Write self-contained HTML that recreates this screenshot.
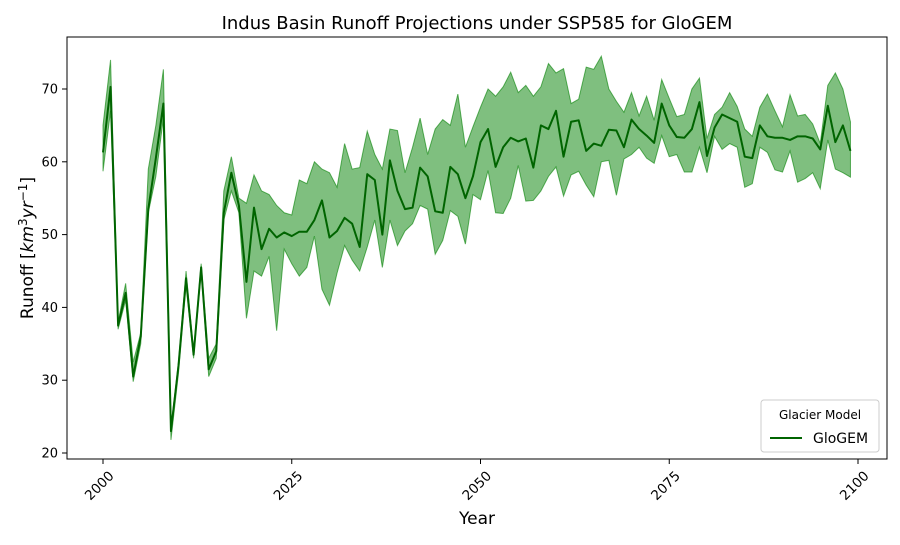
<!DOCTYPE html>
<html><head><meta charset="utf-8"><style>
body{margin:0;background:#fff;font-family:"Liberation Sans","DejaVu Sans",sans-serif}
svg text{font-family:"DejaVu Sans","Liberation Sans",sans-serif}
</style></head><body>
<svg id="chart" width="900" height="540" viewBox="0 0 900 540">
<rect width="900" height="540" fill="#fff"/>
<text x="477" y="29" text-anchor="middle" font-size="18">Indus Basin Runoff Projections under SSP585 for GloGEM</text>
<g id="plot"></g>
<rect x="67" y="37" width="820" height="422" fill="none" stroke="#000" stroke-width="1"/>
<g id="xticks"></g><g id="yticks"></g>
<text x="477" y="524" text-anchor="middle" font-size="17">Year</text>
<text transform="translate(33,248) rotate(-90)" text-anchor="middle" font-size="17">Runoff [<tspan font-style="italic">km</tspan><tspan font-size="12" dy="-6">3</tspan><tspan dy="6" font-style="italic">yr</tspan><tspan font-size="12" dy="-6">−1</tspan><tspan dy="6">]</tspan></text>
<g>
<rect x="761" y="400" width="118" height="52" rx="3" fill="#fff" fill-opacity="0.8" stroke="#ccc"/>
<text x="820" y="419" text-anchor="middle" font-size="12">Glacier Model</text>
<line x1="770" y1="438" x2="802" y2="438" stroke="#006400" stroke-width="2"/>
<text x="813" y="443" font-size="14">GloGEM</text>
</g>
</svg>
<script>
const years=[];for(let y=2000;y<=2099;y++)years.push(y);
const meanRunoff=[61.3,70.3,37.5,42,30.5,36,53.5,60.5,68,23,32,44,33.5,45.5,31.5,34,53,58.5,54,43.5,53.7,48,50.8,49.6,50.3,49.8,50.4,50.4,52,54.7,49.6,50.5,52.3,51.5,48.3,58.3,57.5,50,60.2,56,53.5,53.7,59.2,58,53.2,53,59.3,58.3,55,58,62.7,64.5,59.3,62,63.3,62.8,63.2,59.2,65,64.5,67,60.7,65.5,65.7,61.5,62.5,62.2,64.4,64.3,62,65.8,64.5,63.6,62.6,68,65,63.4,63.3,64.5,68.2,60.8,64.7,66.5,66,65.5,60.7,60.5,65,63.5,63.3,63.3,63,63.5,63.5,63.2,61.7,67.7,62.7,65,61.5];
const upperRunoff=[65,74,38,43.3,32.5,36.5,59,65,72.7,23.5,32.5,45,34,46,33,35,56,60.7,55,54.3,58.2,56,55.5,54,53,52.7,57.5,57,60,59,58.5,56.5,62.5,59,59.2,64.2,61,59,64.5,64.3,58.5,62,66,61,64.5,65.8,65,69.3,62,64.8,67.5,70,69,70.3,72.3,69.5,70.5,69,70.3,73.5,72.2,72.8,68,68.6,73,72.7,74.5,70,68.3,66.8,69.5,66.3,69,65.7,71.3,68.7,66.2,66.5,70,71.5,63.2,66.5,67.5,69.5,67.6,64.5,63.5,67.5,69.3,67,64.8,69.2,66.3,66.5,65.2,62.5,70.5,72.2,70,65.5];
const lowerRunoff=[58.7,67,37,41,29.8,35,53,58,66,21.8,31,43,33,45,30.5,33,52,56,53,38.5,45,44.3,47,36.8,48,46,44.3,45.5,49.8,42.5,40.3,44.7,48.5,46.5,45,48.3,52,45.5,52,48.5,50.5,51.5,54,53.5,47.3,49.2,53.3,52.5,48.7,55.5,54.8,58.8,53,52.9,55,59.5,54.6,54.7,56,58,59.3,55.3,58.2,58.7,56.8,55.2,60,60.2,55.4,60.4,61,62,60.5,59.8,63.6,60.7,61,58.6,58.6,62,58.5,63.5,61.7,62.5,62,56.5,57,62,61.3,58.9,58.6,61.5,57.2,57.7,58.5,56.3,63,59,58.5,57.9];
const xTickVals=[2000,2025,2050,2075,2100];
const yTickVals=[20,30,40,50,60,70];
const NS="http://www.w3.org/2000/svg";
const xScale=v=>103+(v-2000)*7.55;
const yScale=v=>453-(v-20)*7.28;
const plot=document.getElementById('plot');
let d='M'+years.map((y,i)=>xScale(y).toFixed(2)+','+yScale(upperRunoff[i]).toFixed(2)).join('L');
for(let i=years.length-1;i>=0;i--)d+='L'+xScale(years[i]).toFixed(2)+','+yScale(lowerRunoff[i]).toFixed(2);
d+='Z';
const band=document.createElementNS(NS,'path');
band.setAttribute('d',d);band.setAttribute('fill','#008000');band.setAttribute('fill-opacity','0.5');
band.setAttribute('stroke','#008000');band.setAttribute('stroke-opacity','0.6');band.setAttribute('stroke-width','1');


plot.appendChild(band);
const line=document.createElementNS(NS,'polyline');
line.setAttribute('points',years.map((y,i)=>xScale(y).toFixed(2)+','+yScale(meanRunoff[i]).toFixed(2)).join(' '));
line.setAttribute('fill','none');line.setAttribute('stroke','#006400');line.setAttribute('stroke-width','2');line.setAttribute('stroke-linejoin','round');


plot.appendChild(line);
const xt=document.getElementById('xticks');
xTickVals.forEach(v=>{const x=xScale(v);
 const l=document.createElementNS(NS,'line');l.setAttribute('x1',x);l.setAttribute('x2',x);l.setAttribute('y1',459);l.setAttribute('y2',464);l.setAttribute('stroke','#000');
 
 
 xt.appendChild(l);
 const t=document.createElementNS(NS,'text');t.textContent=v;t.setAttribute('font-size','13.5');t.setAttribute('text-anchor','end');
 t.setAttribute('transform','translate('+(x+5)+',470) rotate(-45)');t.setAttribute('dy','0.7em');
 
 
 xt.appendChild(t);});
const yt=document.getElementById('yticks');
yTickVals.forEach(v=>{const y=yScale(v);
 const l=document.createElementNS(NS,'line');l.setAttribute('x1',62);l.setAttribute('x2',67);l.setAttribute('y1',y);l.setAttribute('y2',y);l.setAttribute('stroke','#000');
 
 
 yt.appendChild(l);
 const t=document.createElementNS(NS,'text');t.textContent=v;t.setAttribute('font-size','13');t.setAttribute('text-anchor','end');
 t.setAttribute('x',58);t.setAttribute('y',y+4.5);
 
 
 yt.appendChild(t);});
</script>
</body></html>
